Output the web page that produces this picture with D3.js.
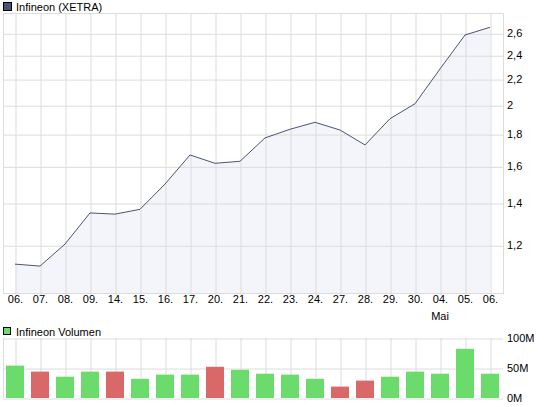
<!DOCTYPE html>
<html>
<head>
<meta charset="utf-8">
<script src="https://cdn.jsdelivr.net/npm/d3@7"></script>
<style>
  body { margin: 0; background: #fff; }
  text { font-family: "Liberation Sans", Arial, sans-serif; font-size: 11px; fill: #000; }
</style>
</head>
<body>
<script>
const dates = ["06.", "07.", "08.", "09.", "14.", "15.", "16.", "17.", "20.", "21.",
               "22.", "23.", "24.", "27.", "28.", "29.", "30.", "04.", "05.", "06."];
const prices = [1.120, 1.112, 1.205, 1.350, 1.344, 1.368, 1.500, 1.668, 1.618, 1.630,
                1.775, 1.832, 1.879, 1.827, 1.730, 1.904, 2.011, 2.283, 2.584, 2.658];
// Volumen in Mio. Stück
const volumes = [54, 44, 35.5, 44, 44, 32, 39, 39, 52, 47,
                 40.5, 39, 32, 19, 29, 35.5, 44, 40.5, 82, 40.5];
const priceTicks = [1.2, 1.4, 1.6, 1.8, 2, 2.2, 2.4, 2.6];
const volumeTicks = [0, 50, 100];

const farbe = {
  linie: "#4a5575",
  flaeche: "#f4f5fa",
  gitter: "#dcdcdc",
  plus: "#6bdb6b",
  minus: "#d96868"
};

const width = 545, height = 407;
const left = 3, right = 503;
const top1 = 13, bottom1 = 293;
const top2 = 338, bottom2 = 398;

const svg = d3.select("body").append("svg")
    .attr("width", width)
    .attr("height", height);

const idx = dates.map((d, i) => i);
const x = d3.scalePoint().domain(idx).range([15, 490]);
const y = d3.scaleLog().domain([1.008, 2.8]).range([bottom1, top1]);
const yv = d3.scaleLinear().domain([0, 100]).range([bottom2, top2]);

const komma = v => String(v).replace(".", ",");

// ---------- Kurschart ----------
svg.append("rect")
    .attr("x", 3.5).attr("y", 2.5).attr("width", 8).attr("height", 8)
    .attr("fill", farbe.linie).attr("stroke", "#000");
svg.append("text").attr("x", 16).attr("y", 10.5).text("Infineon (XETRA)");

const area = d3.area()
    .x((d, i) => x(i))
    .y0(bottom1)
    .y1(d => y(d));
svg.append("path")
    .attr("d", area(prices))
    .attr("fill", farbe.flaeche);

// vertikales Gitter + Ticks
svg.append("g")
    .attr("transform", `translate(0.5,${top1})`)
    .call(d3.axisBottom(x).tickSize(bottom1 - top1 + 3).tickFormat(""))
    .call(g => g.select(".domain").remove())
    .call(g => g.selectAll("line").attr("stroke", farbe.gitter));

// horizontales Gitter
svg.append("g")
    .attr("transform", `translate(${right},0.5)`)
    .call(d3.axisLeft(y).tickValues(priceTicks).tickSize(right - left).tickFormat(""))
    .call(g => g.select(".domain").remove())
    .call(g => g.selectAll("line").attr("stroke", farbe.gitter));

svg.append("rect")
    .attr("x", left + 0.5).attr("y", top1 + 0.5)
    .attr("width", right - left).attr("height", bottom1 - top1)
    .attr("fill", "none").attr("stroke", farbe.gitter);

const line = d3.line()
    .x((d, i) => x(i))
    .y(d => y(d));
svg.append("path")
    .attr("d", line(prices))
    .attr("fill", "none")
    .attr("stroke", farbe.linie)
    .attr("stroke-width", 1);

// Achsenbeschriftung
svg.append("g")
    .attr("transform", `translate(${right},0)`)
    .call(d3.axisRight(y).tickValues(priceTicks).tickSize(0).tickPadding(4).tickFormat(komma))
    .call(g => g.select(".domain").remove())
    .call(g => g.selectAll("text").attr("font-size", null).attr("font-family", null).attr("fill", "#000"));

svg.append("g")
    .attr("transform", `translate(0,${bottom1})`)
    .call(d3.axisBottom(x).tickSize(0).tickFormat(i => dates[i]))
    .call(g => g.select(".domain").remove())
    .call(g => g.selectAll("text").attr("y", 9.5).attr("dy", null)
        .attr("font-size", null).attr("font-family", null).attr("fill", "#000"));

svg.append("text")
    .attr("x", x(17)).attr("y", 319.5)
    .attr("text-anchor", "middle")
    .text("Mai");

// ---------- Volumenchart ----------
svg.append("rect")
    .attr("x", 3.5).attr("y", 327.5).attr("width", 7).attr("height", 7)
    .attr("fill", farbe.plus).attr("stroke", "#000");
svg.append("text").attr("x", 16).attr("y", 335.5).text("Infineon Volumen");

svg.append("g")
    .attr("transform", `translate(0.5,${top2})`)
    .call(d3.axisBottom(x).tickSize(bottom2 - top2).tickFormat(""))
    .call(g => g.select(".domain").remove())
    .call(g => g.selectAll("line").attr("stroke", farbe.gitter));

svg.append("g")
    .attr("transform", `translate(${right},0.5)`)
    .call(d3.axisLeft(yv).tickValues(volumeTicks).tickSize(right - left).tickFormat(""))
    .call(g => g.select(".domain").remove())
    .call(g => g.selectAll("line").attr("stroke", farbe.gitter));

svg.append("line")
    .attr("x1", left + 0.5).attr("x2", left + 0.5)
    .attr("y1", top2).attr("y2", bottom2)
    .attr("stroke", farbe.gitter);

const barW = 18;
svg.append("g")
  .selectAll("rect")
  .data(volumes)
  .join("rect")
    .attr("x", (d, i) => x(i) - barW / 2)
    .attr("y", d => yv(d))
    .attr("width", barW)
    .attr("height", d => bottom2 - yv(d))
    .attr("fill", (d, i) => i > 0 && prices[i] < prices[i - 1] ? farbe.minus : farbe.plus);

svg.append("g")
    .attr("transform", `translate(${right},0)`)
    .call(d3.axisRight(yv).tickValues(volumeTicks).tickSize(0).tickPadding(4).tickFormat(v => v + "M"))
    .call(g => g.select(".domain").remove())
    .call(g => g.selectAll("text").attr("font-size", null).attr("font-family", null).attr("fill", "#000"));
</script>
</body>
</html>
